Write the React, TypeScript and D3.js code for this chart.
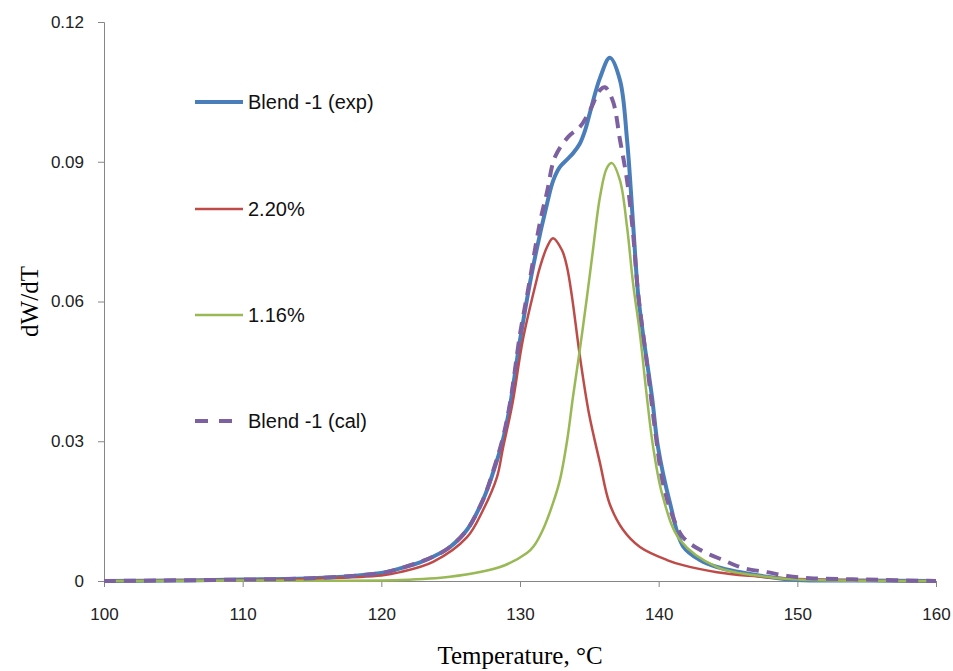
import React, { useRef, useEffect } from "react";
import * as d3 from "d3";

// Blend -1 (exp)
const expT = [100, 105, 110, 115, 118, 120, 121.35, 122.79, 123.73, 124.95, 126.18, 127.33, 128.05, 128.77, 129.3, 130.0, 130.94, 131.95, 132.4, 132.88, 133.4, 133.82, 134.3, 134.7, 135.04, 135.77, 136.48, 137.21, 137.72, 138.15, 138.51, 138.87, 139.52, 139.95, 140.82, 141.75, 142.98, 144.21, 147.81, 150, 155, 160];
const expV = [0, 0.0001, 0.0003, 0.0006, 0.0011, 0.0017, 0.0027, 0.004, 0.0052, 0.0073, 0.011, 0.0174, 0.0232, 0.0303, 0.038, 0.0517, 0.0674, 0.081, 0.086, 0.0889, 0.0905, 0.0918, 0.0938, 0.0968, 0.1005, 0.108, 0.1123, 0.1075, 0.0947, 0.0769, 0.0618, 0.053, 0.0395, 0.0288, 0.0167, 0.0075, 0.0045, 0.003, 0.0009, 0.0002, 0.0001, 0];

// 2.20%
const redT = [100, 110, 115, 120, 121.35, 123.73, 126.18, 127.33, 128.34, 128.77, 129.45, 130.22, 131.23, 131.44, 131.95, 132.38, 133.03, 133.39, 133.75, 134.33, 134.97, 135.77, 136.45, 137.43, 138.65, 140.6, 141.75, 144.21, 146.59, 148.96, 155, 160];
const redV = [0, 0.0002, 0.0005, 0.0012, 0.0019, 0.0041, 0.0094, 0.0152, 0.0223, 0.0285, 0.038, 0.052, 0.065, 0.0674, 0.0717, 0.0736, 0.071, 0.0674, 0.061, 0.048, 0.036, 0.0253, 0.0167, 0.011, 0.0073, 0.0045, 0.0034, 0.0019, 0.0011, 0.0006, 0.0001, 0];

// 1.16%
const greenT = [100, 110, 121.35, 124.95, 128.56, 130.5, 131.0, 131.65, 132.38, 132.88, 133.39, 133.82, 134.33, 134.83, 135.26, 135.77, 136.27, 136.63, 137.21, 137.72, 138.15, 138.65, 139.15, 139.6, 140.31, 141.54, 144.21, 147.81, 150, 160];
const greenV = [0, 0.0001, 0.0002, 0.0009, 0.003, 0.006, 0.0075, 0.011, 0.0167, 0.0217, 0.03, 0.0395, 0.05, 0.061, 0.071, 0.0825, 0.0887, 0.0897, 0.086, 0.076, 0.064, 0.053, 0.0395, 0.0288, 0.018, 0.0088, 0.003, 0.0009, 0.0003, 0];

// Blend -1 (cal)
const calT = [100, 110, 115, 120, 121.35, 123.73, 124.95, 126.18, 127.33, 128.05, 128.77, 129.3, 130.0, 130.58, 131.44, 131.95, 132.52, 133.46, 134.33, 135.04, 135.77, 136.13, 136.7, 137.21, 137.72, 138.15, 138.51, 139.15, 139.74, 140.31, 141.03, 141.75, 142.98, 144.64, 146.08, 147.81, 149.25, 150.91, 155, 160];
const calV = [0, 0.0003, 0.0006, 0.0017, 0.0027, 0.0052, 0.0073, 0.011, 0.0174, 0.0235, 0.0308, 0.0385, 0.053, 0.0625, 0.077, 0.0835, 0.091, 0.0953, 0.0975, 0.101, 0.1054, 0.106, 0.103, 0.0947, 0.086, 0.0747, 0.062, 0.0468, 0.0324, 0.021, 0.0137, 0.0094, 0.0067, 0.0045, 0.0028, 0.0019, 0.0011, 0.0006, 0.0003, 0];

const xTicks = [100, 110, 120, 130, 140, 150, 160];
const yTicks = [0, 0.03, 0.06, 0.09, 0.12];

const series = [
  { name: "Blend -1 (exp)", t: expT, v: expV, color: "#4a7ebb", width: 4, dash: null },
  { name: "2.20%", t: redT, v: redV, color: "#be4b48", width: 2.5, dash: null },
  { name: "1.16%", t: greenT, v: greenV, color: "#98b954", width: 2.5, dash: null },
  { name: "Blend -1 (cal)", t: calT, v: calV, color: "#7d60a0", width: 4, dash: "12,8" },
];
const legendY = [102, 209, 315, 421];

const App = () => {
  const ref = useRef(null);
  const w = 953,
    h = 671,
    margin = { top: 22, right: 17, bottom: 90, left: 104 };

  useEffect(() => {
    const svg = d3.select(ref.current);
    svg.selectAll("*").remove();
    const x = d3.scaleLinear().domain([100, 160]).range([margin.left, w - margin.right]);
    const y = d3.scaleLinear().domain([0, 0.12]).range([h - margin.bottom, margin.top]);

    const sans = "'Liberation Sans', Arial, sans-serif";

    const xAxis = (g) =>
      g
        .attr("transform", `translate(0, ${h - margin.bottom})`)
        .call(d3.axisBottom(x).tickValues(xTicks).tickSizeOuter(0).tickSize(6).tickPadding(21).tickFormat(d3.format("d")))
        .call((g) => g.selectAll("line, path").attr("stroke", "#868686"))
        .call((g) => g.selectAll("text").attr("font-size", 17).attr("font-family", sans).attr("fill", "#222"));
    const yAxis = (g) =>
      g
        .attr("transform", `translate(${margin.left},0)`)
        .call(d3.axisLeft(y).tickValues(yTicks).tickSizeOuter(0).tickSize(6).tickPadding(14).tickFormat((d) => (d === 0 ? "0" : d3.format(".2f")(d))))
        .call((g) => g.selectAll("line, path").attr("stroke", "#868686"))
        .call((g) => g.selectAll("text").attr("font-size", 17).attr("font-family", sans).attr("fill", "#222"));

    svg.append("g").call(xAxis);
    svg.append("g").call(yAxis);

    const line = d3
      .line()
      .curve(d3.curveCatmullRom.alpha(0.5))
      .x((d) => x(d[0]))
      .y((d) => Math.min(y(d[1]), y(0)));

    series.forEach((s) => {
      svg
        .append("path")
        .datum(d3.zip(s.t, s.v))
        .attr("fill", "none")
        .attr("stroke", s.color)
        .attr("stroke-width", s.width)
        .attr("stroke-dasharray", s.dash)
        .attr("stroke-linejoin", "round")
        .attr("d", line);
    });

    const legend = svg.append("g");
    series.forEach((s, i) => {
      legend
        .append("line")
        .attr("x1", 195)
        .attr("x2", 243)
        .attr("y1", legendY[i])
        .attr("y2", legendY[i])
        .attr("stroke", s.color)
        .attr("stroke-width", s.width)
        .attr("stroke-dasharray", s.dash ? "13,11" : null);
      legend
        .append("text")
        .attr("x", 248)
        .attr("y", legendY[i])
        .attr("dy", "0.35em")
        .attr("font-size", 20)
        .attr("font-family", sans)
        .attr("fill", "#111")
        .text(s.name);
    });

    svg
      .append("text")
      .attr("x", (margin.left + w - margin.right) / 2)
      .attr("y", 664)
      .attr("text-anchor", "middle")
      .attr("font-family", "'Liberation Serif', serif")
      .attr("font-size", 25)
      .text("Temperature, \u00B0C");
    svg
      .append("text")
      .attr("transform", `translate(38, ${(margin.top + h - margin.bottom) / 2}) rotate(-90)`)
      .attr("text-anchor", "middle")
      .attr("font-family", "'Liberation Serif', serif")
      .attr("font-size", 25)
      .text("dW/dT");
  }, []);

  return <svg ref={ref} width={w} height={h} style={{ position: "absolute", left: 0, top: 0, background: "#fff" }}></svg>;
};

export default App;
